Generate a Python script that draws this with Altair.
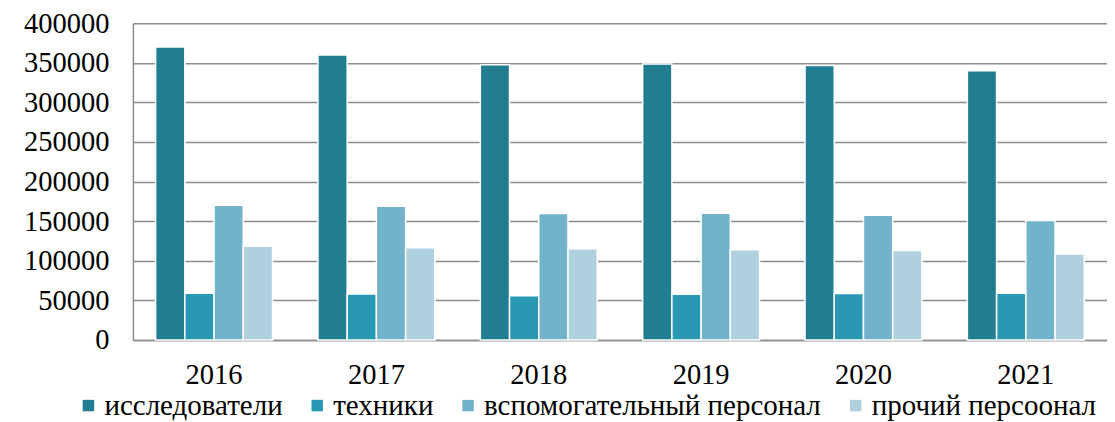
import altair as alt
import pandas as pd

years = ["2016", "2017", "2018", "2019", "2020", "2021"]
series = ["исследователи", "техники", "вспомогательный персонал", "прочий персоонал"]
researchers = [370000, 359800, 347500, 348300, 346500, 340000]
technicians = [58800, 57900, 55700, 57500, 58700, 59000]
auxiliary = [170200, 168900, 159500, 160000, 157400, 150800]
other = [118200, 116400, 115000, 113800, 113000, 108500]
colors = ["#227D93", "#2998B4", "#72B2CB", "#AFD0DD"]
y_ticks = [0, 50000, 100000, 150000, 200000, 250000, 300000, 350000, 400000]

rows = []
for vals, name in zip([researchers, technicians, auxiliary, other], series):
    for yr, v in zip(years, vals):
        rows.append({"year": yr, "series": name, "value": v})
df = pd.DataFrame(rows)

FONT = "Liberation Serif"

chart = alt.Chart(df).mark_bar(stroke="white", strokeWidth=1.5).encode(
    x=alt.X("year:N", sort=years, title=None,
            scale=alt.Scale(paddingInner=0.28, paddingOuter=0.14),
            axis=alt.Axis(labelAngle=0, labelFontSize=28.5,
                          labelColor="black", labelPadding=21, ticks=False,
                          domain=True, domainColor="#8c8c8c", domainWidth=1.5,
                          grid=False)),
    xOffset=alt.XOffset("series:N", sort=series, scale=alt.Scale(paddingInner=0, paddingOuter=0)),
    y=alt.Y("value:Q", title=None,
            scale=alt.Scale(domain=[0, 400000], nice=False),
            axis=alt.Axis(values=y_ticks, format="d", labelFontSize=28.5,
                          labelColor="black", labelPadding=24, ticks=False,
                          domain=True, domainColor="#8c8c8c", domainWidth=1.5,
                          grid=True, gridColor="#8c8c8c", gridWidth=1.5)),
    color=alt.Color("series:N", sort=series,
                    scale=alt.Scale(domain=series, range=colors),
                    legend=alt.Legend(title=None, orient="none", direction="horizontal",
                                      legendX=-59, legendY=368, padding=0,
                                      symbolType="square", symbolSize=132,
                                      symbolStrokeWidth=0, symbolOffset=0,
                                      labelFontSize=29,
                                      labelColor="black", labelOffset=1.5,
                                      columnPadding=20, labelLimit=0)),
).properties(
    width=975, height=317,
    autosize=alt.AutoSizeParams(type="none"),
    padding={"left": 125, "top": 15, "right": 0, "bottom": 86},
).configure(
    font=FONT
).configure_axis(
    labelFont=FONT
).configure_legend(
    labelFont=FONT
).configure_view(stroke=None)

chart.save("out.html", embed_options={"renderer": "svg", "actions": False})
